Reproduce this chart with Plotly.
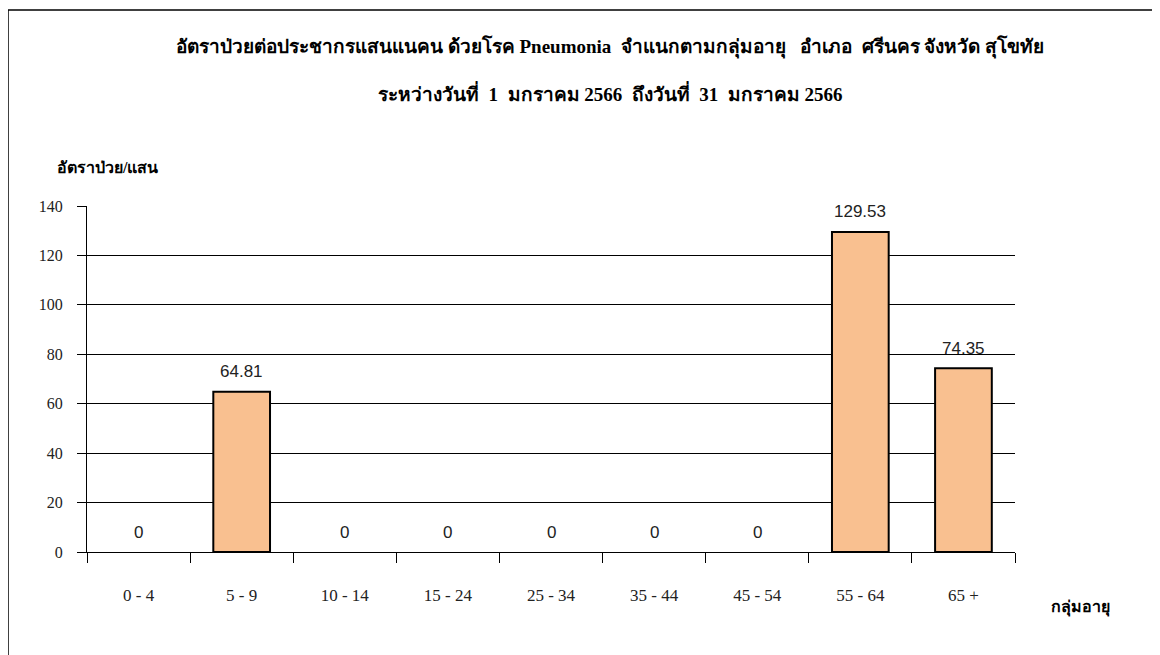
import plotly.graph_objects as go

categories = ["0 - 4", "5 - 9", "10 - 14", "15 - 24", "25 - 34", "35 - 44", "45 - 54", "55 - 64", "65 +"]
rates = [0, 64.81, 0, 0, 0, 0, 0, 129.53, 74.35]
labels = ["0", "64.81", "0", "0", "0", "0", "0", "129.53", "74.35"]
y_ticks = [0, 20, 40, 60, 80, 100, 120, 140]

title_line1 = "อัตราป่วยต่อประชากรแสนแนคน ด้วยโรค Pneumonia  จำแนกตามกลุ่มอายุ   อำเภอ  ศรีนคร จังหวัด สุโขทัย"
title_line2 = "ระหว่างวันที่  1  มกราคม 2566  ถึงวันที่  31  มกราคม 2566"

# page body has an 8px offset; draw the figure so the reference pixel positions line up
OFF = 8
L, R, T, B = 87 - OFF, 145, 206 - OFF, 103
W, H = 1160 - OFF, 655 - OFF
pw, ph = W - L - R, H - T - B

def px_x(x):
    return (x - OFF - L) / pw

def px_y(y):
    return (H - B - (y - OFF)) / ph

line_widths = [2 if v > 0 else 0 for v in rates]

fig = go.Figure(go.Bar(
    x=categories, y=rates,
    marker=dict(color="#F9C090", line=dict(color="black", width=line_widths)),
    width=0.55,
))

fig.update_layout(
    width=W, height=H,
    margin=dict(l=L, r=R, t=T, b=B),
    paper_bgcolor="white", plot_bgcolor="white",
    showlegend=False,
    font=dict(family="Liberation Serif, Times New Roman", color="#222"),
)
fig.update_xaxes(
    type="category", tickson="boundaries", ticks="outside", ticklen=10,
    tickcolor="black", showline=True, linecolor="black", linewidth=1,
    showgrid=False, ticklabelstandoff=28,
    tickfont=dict(family="Liberation Serif, Times New Roman", size=17, color="#222"),
)
fig.update_yaxes(
    range=[0, 140], tickvals=y_ticks, ticks="outside", ticklen=9, tickcolor="black",
    showline=True, linecolor="black", linewidth=1,
    showgrid=True, gridcolor="black", gridwidth=1, zeroline=False,
    ticklabelstandoff=11,
    tickfont=dict(family="Liberation Serif, Times New Roman", size=16, color="#222"),
)

annos = [
    dict(text="<b>" + title_line1 + "</b>", x=px_x(610), y=px_y(47), font=dict(size=19, family="Liberation Serif, Times New Roman", color="black")),
    dict(text="<b>" + title_line2 + "</b>", x=px_x(610), y=px_y(93), font=dict(size=19, family="Liberation Serif, Times New Roman", color="black")),
    dict(text="<b>อัตราป่วย/แสน</b>", x=px_x(107), y=px_y(167), font=dict(size=16, color="black")),
    dict(text="<b>กลุ่มอายุ</b>", x=px_x(1080), y=px_y(607), font=dict(size=16, color="black")),
]
for a in annos:
    a.update(xref="paper", yref="paper", showarrow=False, xanchor="center", yanchor="middle")

for c, v, t in zip(categories, rates, labels):
    annos.append(dict(
        x=c, y=v, xref="x", yref="y", text=t, showarrow=False,
        xanchor="center", yanchor="middle", yshift=20,
        font=dict(family="Liberation Sans, Arial", size=17, color="#222"),
    ))
fig.update_layout(annotations=annos)

fig.add_shape(type="line", xref="paper", yref="paper", x0=px_x(8), x1=px_x(1170), y0=px_y(10), y1=px_y(10), line=dict(color="black", width=1.5))
fig.add_shape(type="line", xref="paper", yref="paper", x0=px_x(8), x1=px_x(8), y0=px_y(10), y1=px_y(670), line=dict(color="black", width=1.5))

fig.write_html("out.html")
